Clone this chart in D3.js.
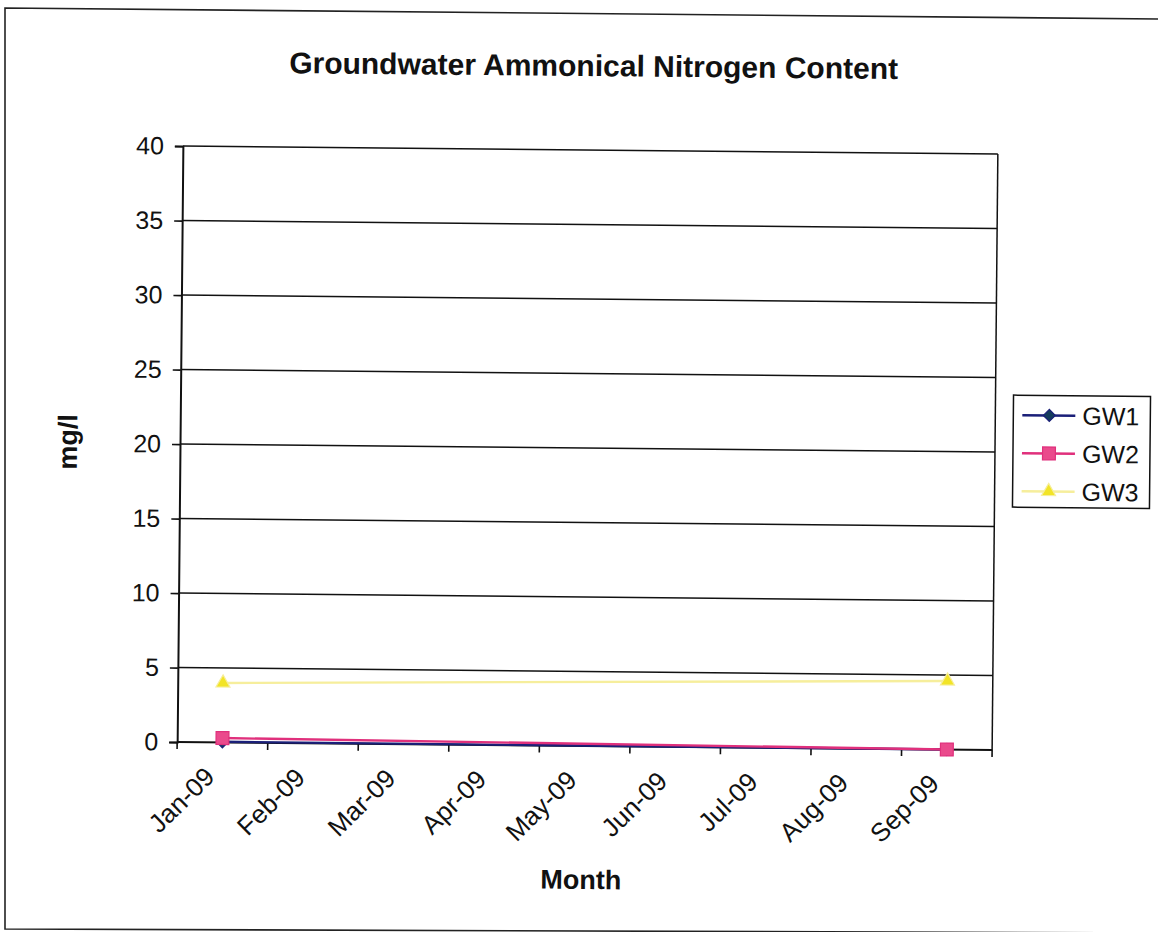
<!DOCTYPE html>
<html>
<head>
<meta charset="utf-8">
<script src="https://cdn.jsdelivr.net/npm/d3@7"></script>
<style>
  html, body { margin: 0; padding: 0; background: #fff; }
  svg { display: block; }
  text { font-family: "Liberation Sans", Arial, sans-serif; fill: #111; }
</style>
</head>
<body>
<svg id="chart" width="1158" height="932"></svg>
<script>
// Monthly sampling categories
const months = ["Jan-09", "Feb-09", "Mar-09", "Apr-09", "May-09", "Jun-09", "Jul-09", "Aug-09", "Sep-09"];

// Ammonical nitrogen (mg/l) per well; months without a sample are null
const gw1 = [0.05, null, null, null, null, null, null, null, 0.0];
const gw2 = [0.3, null, null, null, null, null, null, null, 0.0];
const gw3 = [4.0, null, null, null, null, null, null, null, 4.6];

const yTicks = [0, 5, 10, 15, 20, 25, 30, 35, 40];
const seriesNames = ["GW1", "GW2", "GW3"];

const series = [
  { name: seriesNames[0], values: gw1, color: "#1a1f78", fill: "#143c5c", marker: "diamond" },
  { name: seriesNames[1], values: gw2, color: "#e0307c", fill: "#ea4a8c", marker: "square" },
  { name: seriesNames[2], values: gw3, color: "#f6ee9c", fill: "#f2e426", marker: "triangle" }
];

const svg = d3.select("#chart");

// Outer chart-area frame
svg.append("path")
  .attr("d", "M1160,19 L5,8 L5,929 L1160,933")
  .attr("fill", "none")
  .attr("stroke", "#222")
  .attr("stroke-width", 1.6);

// Whole chart content sits at a slight tilt
const g = svg.append("g").attr("transform", "rotate(0.55,586,448)");

const plot = { left: 180, right: 995, top: 150, bottom: 746 };

const x = d3.scaleBand().domain(months).range([plot.left, plot.right]).padding(0);
const y = d3.scaleLinear().domain([0, 40]).range([plot.bottom, plot.top]);

// Horizontal gridlines
g.append("g").selectAll("line")
  .data(yTicks.filter(v => v > 0))
  .join("line")
  .attr("x1", plot.left).attr("x2", plot.right)
  .attr("y1", d => y(d)).attr("y2", d => y(d))
  .attr("stroke", "#111").attr("stroke-width", 1.5);

// Right edge of the plot area
g.append("line")
  .attr("x1", plot.right).attr("x2", plot.right)
  .attr("y1", plot.top).attr("y2", plot.bottom)
  .attr("stroke", "#111").attr("stroke-width", 1.5);

// Y axis
const yAxis = g.append("g")
  .attr("transform", `translate(${plot.left},0)`)
  .call(d3.axisLeft(y).tickValues(yTicks).tickSize(8).tickPadding(11));
yAxis.select(".domain").attr("stroke", "#111").attr("stroke-width", 2);
yAxis.selectAll(".tick line").attr("stroke", "#111").attr("stroke-width", 1.6);
yAxis.selectAll(".tick text")
  .style("font-size", "25px")
  .style("font-family", "Liberation Sans, Arial, sans-serif")
  .attr("fill", "#111");

// X axis: ticks on category boundaries
const xAxisG = g.append("g");
xAxisG.append("line")
  .attr("x1", plot.left).attr("x2", plot.right)
  .attr("y1", plot.bottom).attr("y2", plot.bottom)
  .attr("stroke", "#111").attr("stroke-width", 2);
const boundaries = months.map(m => x(m)).concat([x(months[months.length - 1]) + x.bandwidth()]);
xAxisG.selectAll("line.tick")
  .data(boundaries)
  .join("line")
  .attr("class", "tick")
  .attr("x1", d => d).attr("x2", d => d)
  .attr("y1", plot.bottom).attr("y2", plot.bottom + 7)
  .attr("stroke", "#111").attr("stroke-width", 1.6);

xAxisG.selectAll("text")
  .data(months)
  .join("text")
  .attr("transform", d => `translate(${x(d) + x.bandwidth() / 2 - 6},${plot.bottom + 36}) rotate(-45)`)
  .attr("text-anchor", "end")
  .style("font-size", "26px")
  .text(d => d);

// Series lines (connect the sampled months only)
const line = d3.line()
  .x(d => x(d.m) + x.bandwidth() / 2)
  .y(d => y(d.v));

series.forEach(s => {
  const pts = months.map((m, i) => ({ m, v: s.values[i] })).filter(d => d.v != null);
  g.append("path")
    .datum(pts)
    .attr("d", line)
    .attr("fill", "none")
    .attr("stroke", s.color)
    .attr("stroke-width", 2.4);
  s.pts = pts;
});

function markerPath(type) {
  if (type === "diamond") return "M0,-6L6,0L0,6L-6,0Z";
  if (type === "square") return d3.symbol(d3.symbolSquare, 165)();
  return d3.symbol(d3.symbolTriangle, 85)();
}

series.forEach(s => {
  g.append("g").selectAll("path")
    .data(s.pts)
    .join("path")
    .attr("transform", d => `translate(${x(d.m) + x.bandwidth() / 2},${y(d.v)})`)
    .attr("d", markerPath(s.marker))
    .attr("fill", s.fill)
    .attr("stroke", s.color)
    .attr("stroke-width", 1.2);
});

// Title and axis titles
g.append("text")
  .attr("x", 590).attr("y", 76)
  .attr("text-anchor", "middle")
  .style("font-size", "30px").style("font-weight", "bold")
  .text("Groundwater Ammonical Nitrogen Content");

g.append("text")
  .attr("transform", "translate(77,447) rotate(-90)")
  .attr("text-anchor", "middle")
  .style("font-size", "27px").style("font-weight", "bold")
  .text("mg/l");

g.append("text")
  .attr("x", 585).attr("y", 889)
  .attr("text-anchor", "middle")
  .style("font-size", "27px").style("font-weight", "bold")
  .text("Month");

// Legend
const legend = g.append("g").attr("transform", "translate(1013,391)");
legend.append("rect")
  .attr("width", 137).attr("height", 112)
  .attr("fill", "#fff").attr("stroke", "#111").attr("stroke-width", 1.5);
series.forEach((s, i) => {
  const row = legend.append("g").attr("transform", `translate(0,${20 + i * 38})`);
  row.append("line")
    .attr("x1", 9).attr("x2", 62).attr("y1", 0).attr("y2", 0)
    .attr("stroke", s.color).attr("stroke-width", 2.4);
  row.append("path")
    .attr("transform", "translate(36,0)")
    .attr("d", markerPath(s.marker))
    .attr("fill", s.fill).attr("stroke", s.color).attr("stroke-width", 1.2);
  row.append("text")
    .attr("x", 69).attr("y", 9)
    .style("font-size", "25px")
    .text(s.name);
});
</script>
</body>
</html>
